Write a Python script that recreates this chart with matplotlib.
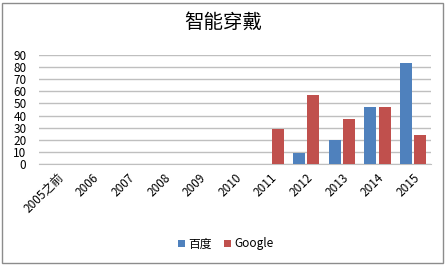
import numpy as np
import matplotlib
matplotlib.use('Agg')
from matplotlib import pyplot as plt
from matplotlib.patches import Rectangle

plt.rcParams['font.family'] = ['Noto Sans CJK SC', 'DejaVu Sans']

categories = ['2005之前', '2006', '2007', '2008', '2009', '2010',
              '2011', '2012', '2013', '2014', '2015']
baidu = [0, 0, 0, 0, 0, 0, 0, 9, 20, 47, 83]
google = [0, 0, 0, 0, 0, 0, 29, 57, 37, 47, 24]
yticks = list(range(0, 100, 10))

fig = plt.figure(figsize=(4.47, 2.67), dpi=100)
# outer chart border
fig.patches.append(Rectangle((0.005, 0.015), 0.985, 0.975, transform=fig.transFigure,
                             fill=False, edgecolor='#8c8c8c', linewidth=1.0))

ax = fig.add_axes([39 / 447, 1 - 164 / 267, (431 - 39) / 447, (164 - 55) / 267])

x = np.arange(len(categories))
w = 0.34
ax.bar(x - 0.2, baidu, w, color='#4F81BD', label='百度', zorder=3)
ax.bar(x + 0.2, google, w, color='#C0504D', label='Google', zorder=3)

ax.set_xlim(-0.5, len(categories) - 0.5)
ax.set_ylim(0, 90)
ax.set_yticks(yticks)
ax.set_yticklabels([str(v) for v in yticks], fontsize=8.5)
ax.set_xticks(x)
ax.set_xticklabels(categories, rotation=45, ha='right', rotation_mode='anchor', fontsize=8.5)
ax.tick_params(axis='x', length=0, pad=5)
ax.tick_params(axis='y', length=0, pad=9)
ax.grid(axis='y', color='#BFBFBF', linewidth=1.0, zorder=0)
for s in ['top', 'right', 'left']:
    ax.spines[s].set_visible(False)
ax.spines['bottom'].set_color('#BFBFBF')

fig.text(0.5, 1 - 22 / 267, '智能穿戴', ha='center', va='center', fontsize=14)

fig.legend(loc='center', bbox_to_anchor=(0.505, 1 - 244 / 267), ncol=2, frameon=False,
           fontsize=8.5, handlelength=0.6, handleheight=0.6, handletextpad=0.3, columnspacing=1.0)

fig.savefig('out.png', dpi=100)
